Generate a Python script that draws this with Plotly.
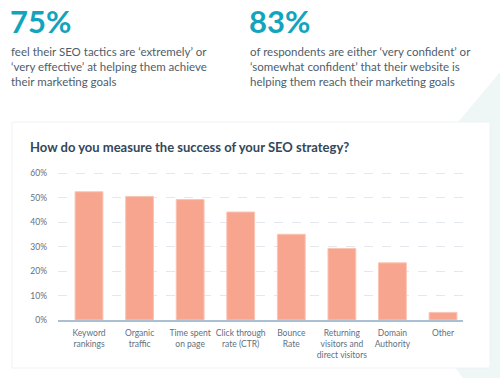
import plotly.graph_objects as go

categories = ["Keyword<br>rankings", "Organic<br>traffic", "Time spent<br>on page",
              "Click through<br>rate (CTR)", "Bounce<br>Rate",
              "Returning<br>visitors and<br>direct visitors", "Domain<br>Authority", "Other"]
values = [52.5, 50.6, 49.3, 44.2, 35.1, 29.3, 23.4, 3.1]
y_ticks = [0, 10, 20, 30, 40, 50, 60]

stat1 = "75%"
stat1_text = "feel their SEO tactics are ‘extremely’ or<br>‘very effective’ at helping them achieve<br>their marketing goals"
stat2 = "83%"
stat2_text = "of respondents are either ‘very confident’ or<br>‘somewhat confident’ that their website is<br>helping them reach their marketing goals"
title = "How do you measure the success of your SEO strategy?"

W, H = 500, 378
ML, MR = 58, W - 463
MT, MB = 171, H - 320
PW, PH = W - ML - MR, H - MT - MB

def px(x):
    return (x - ML) / PW

def py(y):
    return (H - MB - y) / PH

FONT = "Lato"
TEAL = "#12a3bd"
DARK = "#33475b"
BODY = "#4f5d6b"
TICK = "#5f6f80"

fig = go.Figure(go.Bar(
    x=list(range(len(categories))), y=values,
    marker=dict(color="#f7a58f", line=dict(color="#fbc4b4", width=1)),
    width=0.55, hoverinfo="skip",
))

shapes = [
    dict(type="path", xref="paper", yref="paper", layer="below",
         path=f"M {px(500)},{py(72)} L {px(361)},{py(238)} L {px(473)},{py(392)} "
              f"L {px(512)},{py(392)} L {px(512)},{py(72)} Z",
         fillcolor="#eff7f6", line=dict(width=0)),
    dict(type="rect", xref="paper", yref="paper", layer="below",
         x0=px(12), x1=px(490), y0=py(368), y1=py(122),
         fillcolor="white", line=dict(color="#edf1f4", width=1)),
]

annotations = [
    dict(text=f"<b>{stat1}</b>", x=px(8), y=py(21), xref="paper", yref="paper",
         xanchor="left", yanchor="middle", showarrow=False,
         font=dict(family=FONT, size=31, color=TEAL)),
    dict(text=stat1_text, x=px(9), y=py(67), xref="paper", yref="paper",
         xanchor="left", yanchor="middle", align="left", showarrow=False,
         font=dict(family=FONT, size=11.5, color=BODY)),
    dict(text=f"<b>{stat2}</b>", x=px(247), y=py(21), xref="paper", yref="paper",
         xanchor="left", yanchor="middle", showarrow=False,
         font=dict(family=FONT, size=31, color=TEAL)),
    dict(text=stat2_text, x=px(248), y=py(67), xref="paper", yref="paper",
         xanchor="left", yanchor="middle", align="left", showarrow=False,
         font=dict(family=FONT, size=11.5, color=BODY)),
    dict(text=f"<b>{title}</b>", x=px(28), y=py(147), xref="paper", yref="paper",
         xanchor="left", yanchor="middle", showarrow=False,
         font=dict(family=FONT, size=13, color=DARK)),
]

fig.update_layout(
    width=W, height=H,
    margin=dict(l=ML, r=MR, t=MT, b=MB),
    paper_bgcolor="white", plot_bgcolor="rgba(0,0,0,0)",
    showlegend=False, hovermode=False,
    shapes=shapes, annotations=annotations,
    xaxis=dict(
        tickmode="array", tickvals=list(range(len(categories))), ticktext=categories,
        range=[-0.613, 7.395], showgrid=False, zeroline=False,
        showline=True, linecolor="#a9bfd3", linewidth=1.5,
        ticks="", tickfont=dict(family=FONT, size=8.5, color=TICK),
        ticklabelstandoff=4, fixedrange=True,
    ),
    yaxis=dict(
        range=[0, 61], tickmode="array", tickvals=y_ticks,
        ticktext=[f"{v}%" for v in y_ticks],
        showgrid=True, gridcolor="#e3e7ee", gridwidth=1, griddash="dash",
        zeroline=False, showline=False, ticks="",
        tickfont=dict(family=FONT, size=8.5, color=TICK),
        ticklabelstandoff=10, fixedrange=True,
    ),
)

fig.write_html("out.html",
               config={"displayModeBar": False, "staticPlot": True},
               post_script="document.body.style.margin='0';document.body.style.overflow='hidden';")
